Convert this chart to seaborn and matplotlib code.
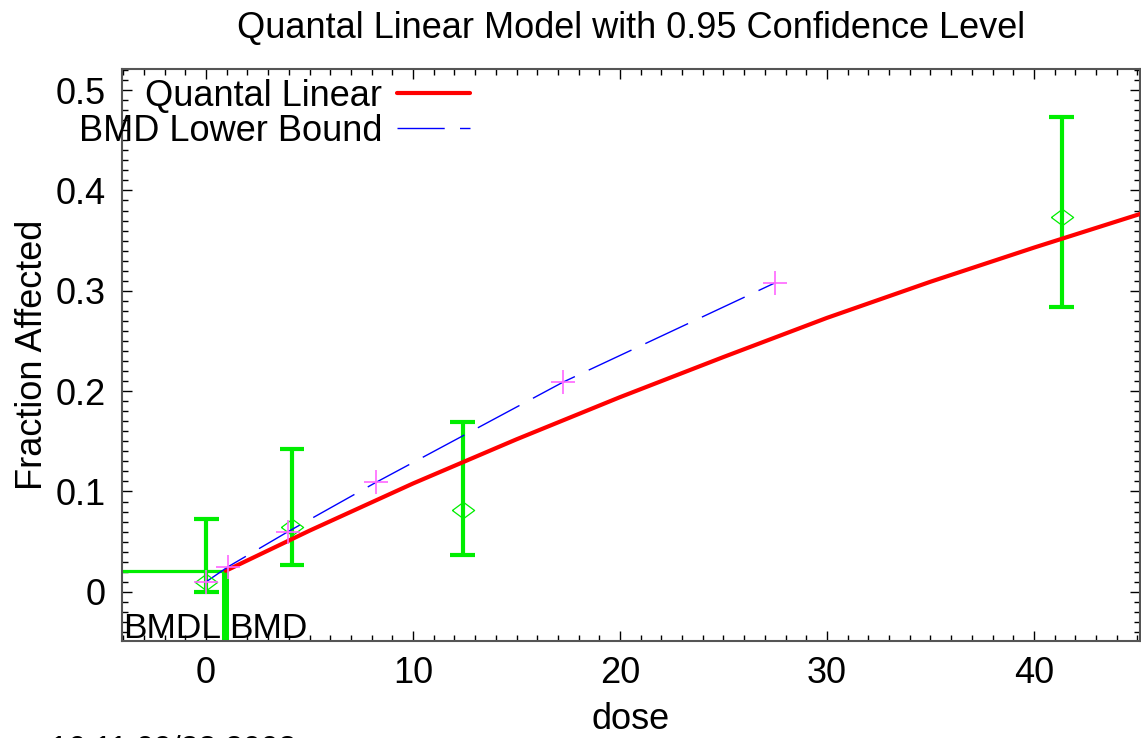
import numpy as np
import pandas as pd
import matplotlib
matplotlib.use('Agg')
import matplotlib.pyplot as plt
import seaborn as sns

# observed data (dose, fraction, lower/upper 95% limits)
dose = [0.0, 4.15, 12.4, 41.35]
frac = [0.010, 0.065, 0.082, 0.374]
lo_ci = [0.000, 0.027, 0.037, 0.284]
hi_ci = [0.073, 0.142, 0.169, 0.473]

# fitted quantal linear curve
fit_dose = [0.95, 5, 10, 15, 20, 25, 30, 35, 40, 45.2]
fit_resp = [0.021, 0.061, 0.108, 0.152, 0.194, 0.234, 0.273, 0.309, 0.343, 0.377]

# BMD lower bound curve
lb_dose = [0.0, 1.06, 3.96, 8.2, 17.25, 27.5]
lb_resp = [0.010, 0.025, 0.060, 0.109, 0.209, 0.308]

bmd = 0.97
bmdl = 0.78
bmr_level = 0.021

sns.set_theme(style="ticks")
plt.rcParams['font.family'] = ['Liberation Sans', 'DejaVu Sans']
plt.rcParams['text.color'] = 'black'
plt.rcParams['axes.labelcolor'] = 'black'
plt.rcParams['xtick.direction'] = 'in'
plt.rcParams['ytick.direction'] = 'in'

fig = plt.figure(figsize=(11.41, 7.38), dpi=100)
ax = fig.add_axes([0.107, 0.1314, 0.892, 0.7751])

green = '#00ee00'

# error bars
ax.vlines(dose, lo_ci, hi_ci, color=green, lw=3, zorder=2)
ax.hlines(lo_ci, np.array(dose) - 0.6, np.array(dose) + 0.6, color=green, lw=3, zorder=2)
ax.hlines(hi_ci, np.array(dose) - 0.6, np.array(dose) + 0.6, color=green, lw=3, zorder=2)

# BMD / BMDL markers
ax.hlines(bmr_level, -10, bmd, color=green, lw=2.3, zorder=2)
ax.vlines([bmdl + 0.1, bmd + 0.05], -1, bmr_level, color=green, lw=2.9, zorder=2)

# curves
sns.lineplot(x=fit_dose, y=fit_resp, ax=ax, color='red', lw=3, label='Quantal Linear', zorder=3)
sns.lineplot(x=lb_dose, y=lb_resp, ax=ax, color='blue', lw=1, dashes=False,
             label='BMD Lower Bound', zorder=3)
ax.lines[-1].set_dashes((34, 11))

diamond = [(-1, 0), (0, 0.74), (1, 0), (0, -0.74), (-1, 0)]
ax.plot(dose, frac, linestyle='none', marker=diamond, markersize=16,
        markerfacecolor='none', markeredgecolor=green, markeredgewidth=0.9, zorder=4)
ax.plot(lb_dose, lb_resp, linestyle='none', marker='+', markersize=17,
        color='#ff66ff', markeredgewidth=1.2, zorder=4)

ax.text(-4.0, -0.046, 'BMDL', fontsize=25.5, ha='left', va='baseline')
ax.text(1.1, -0.046, 'BMD', fontsize=25.5, ha='left', va='baseline')

ax.set_xlim(-4.06, 45.12)
ax.set_ylim(-0.049, 0.521)
ax.set_xticks([0, 10, 20, 30, 40])
ax.set_yticks([0, 0.1, 0.2, 0.3, 0.4, 0.5])
ax.set_yticklabels(['0', '0.1', '0.2', '0.3', '0.4', '0.5'])
ax.xaxis.set_minor_locator(matplotlib.ticker.MultipleLocator(1))
ax.yaxis.set_minor_locator(matplotlib.ticker.MultipleLocator(0.01))
ax.tick_params(which='both', top=True, right=True, direction='in', colors='black',
               labelsize=26)
ax.tick_params(which='major', length=7, width=1)
ax.tick_params(which='minor', length=4, width=1)
ax.tick_params(axis='x', which='major', pad=11)
ax.tick_params(axis='y', which='major', pad=12)
for s in ax.spines.values():
    s.set_color('#555555')
    s.set_linewidth(1.5)
    s.set_visible(True)

ax.set_xlabel('dose', fontsize=26, labelpad=8)
ax.set_ylabel('Fraction Affected', fontsize=26)
ax.set_title('Quantal Linear Model with 0.95 Confidence Level', fontsize=26, pad=22)

leg = ax.legend(loc='upper left', frameon=False, fontsize=26, markerfirst=False,
                handlelength=2.02, handletextpad=0.42, borderaxespad=0.0,
                labelspacing=0.0, bbox_to_anchor=(-0.057, 1.008))
for t in leg.get_texts():
    t.set_ha('right')

# timestamp, mostly below the bottom edge as in the original
fig.text(0.044, -0.0265, '16:11 09/23 2003', fontsize=23, ha='left', va='baseline')

fig.savefig('out.png', dpi=100)
